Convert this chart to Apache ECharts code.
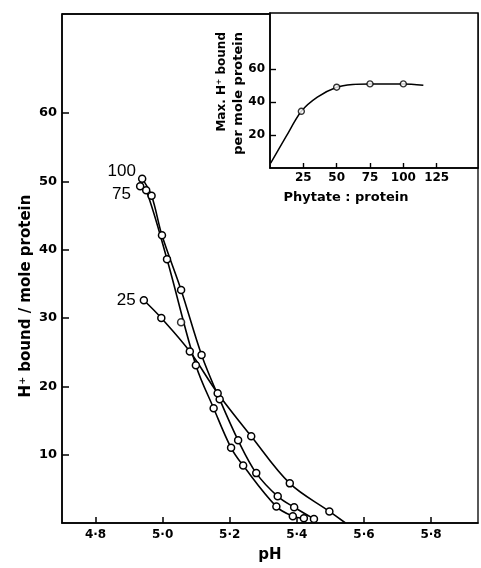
<!DOCTYPE html>
<html>
<head>
<meta charset="utf-8">
<title>H+ bound vs pH</title>
<script src="https://cdn.jsdelivr.net/npm/echarts@6/dist/echarts.min.js"></script>
<style>
  html, body { margin: 0; padding: 0; background: #fff; }
  #main { width: 481px; height: 568px; }
</style>
</head>
<body>
<div id="main"></div>
<script>
// main panel: [pH, H+ bound per mole protein]
var pts100 = [[4.939, 50.4], [4.967, 47.9], [4.998, 42.1], [5.055, 34.1], [5.116, 24.6],
  [5.170, 18.1], [5.225, 12.1], [5.279, 7.3], [5.343, 3.9], [5.392, 2.3], [5.451, 0.6]];
var pts75 = [[4.933, 49.3], [4.951, 48.7], [5.013, 38.6], [5.099, 23.1], [5.152, 16.8],
  [5.204, 11.0], [5.240, 8.4], [5.339, 2.4], [5.388, 1.0], [5.421, 0.7]];
var pts25 = [[4.944, 32.6], [4.996, 30.0], [5.081, 25.1], [5.164, 19.0], [5.264, 12.7],
  [5.379, 5.8], [5.497, 1.7]];
var end25 = [5.545, 0];
var stray = [[5.055, 29.4]];

var xTicks = [4.8, 5.0, 5.2, 5.4, 5.6, 5.8];
var yTicks = [10, 20, 30, 40, 50, 60];
var xMin = 4.7, xMax = 5.94, yMax = 74.5;

// inset: [phytate : protein, max H+ bound]
var insetCurve = [[0.5, 3.0], [12, 19.0], [23.5, 34.4], [35.5, 43.0], [50, 49.0], [62, 50.7],
  [75, 51.0], [100, 51.0], [115, 50.2]];
var insetPts = [[23.5, 34.4], [50, 49.0], [75, 51.0], [100, 51.0]];
var insetXTicks = [25, 50, 75, 100, 125];
var insetYTicks = [20, 40, 60];

var chart = echarts.init(document.getElementById('main'));
var tickFont = { color: '#000', fontFamily: 'DejaVu Sans', fontWeight: 'bold', fontSize: 12 };

function withLabel(pts, text, dist, off) {
  return pts.map(function (p, i) {
    if (i > 0) return p;
    return { value: p, label: { show: true, position: 'left', distance: dist, offset: off,
      formatter: text, color: '#000', fontSize: 17, fontFamily: 'Liberation Sans' } };
  });
}

function curve(name, data, smooth) {
  return {
    name: name, type: 'line', xAxisIndex: 0, yAxisIndex: 0,
    data: data, smooth: smooth,
    symbol: 'circle', symbolSize: 7,
    itemStyle: { color: '#fff', borderColor: '#000', borderWidth: 1.5 },
    lineStyle: { color: '#000', width: 1.6 },
    z: 3
  };
}

var d25 = withLabel(pts25, '25', 4, [0, 0]);
d25.push({ value: end25, symbol: 'none' });

var option = {
  animation: false,
  grid: [
    { left: 62, top: 14, right: 3, bottom: 40, show: true, borderColor: '#000', borderWidth: 1.3 },
    { left: 270, top: 13, right: 3, bottom: 400, show: true, backgroundColor: '#fff',
      borderColor: '#000', borderWidth: 1.5, z: 5 }
  ],
  xAxis: [
    { gridIndex: 0, type: 'value', min: xMin, max: xMax,
      axisLine: { onZero: false, lineStyle: { color: '#000', width: 1.6 } },
      axisTick: { inside: true, length: 6, customValues: xTicks, lineStyle: { color: '#000', width: 1.5 } },
      axisLabel: Object.assign({ customValues: xTicks, margin: 6,
        formatter: function (v) { return v.toFixed(1).replace('.', '·'); } }, tickFont),
      splitLine: { show: false },
      name: 'pH', nameLocation: 'middle', nameGap: 25,
      nameTextStyle: { color: '#000', fontFamily: 'DejaVu Sans', fontWeight: 'bold', fontSize: 15 } },
    { gridIndex: 1, type: 'value', min: 0, max: 156,
      axisLine: { onZero: false, lineStyle: { color: '#000', width: 1.5 } },
      axisTick: { inside: true, length: 5, customValues: insetXTicks, lineStyle: { color: '#000', width: 1.4 } },
      axisLabel: Object.assign({ customValues: insetXTicks, margin: 4 }, tickFont),
      splitLine: { show: false },
      name: 'Phytate : protein', nameLocation: 'middle', nameGap: 23,
      nameTextStyle: { color: '#000', fontFamily: 'DejaVu Sans', fontWeight: 'bold', fontSize: 13,
        padding: [0, 56, 0, 0] }, z: 6 }
  ],
  yAxis: [
    { gridIndex: 0, type: 'value', min: 0, max: yMax,
      axisLine: { onZero: false, lineStyle: { color: '#000', width: 1.6 } },
      axisTick: { inside: true, length: 7, customValues: yTicks, lineStyle: { color: '#000', width: 1.5 } },
      axisLabel: Object.assign({ customValues: yTicks, margin: 5 }, tickFont, { fontSize: 13 }),
      splitLine: { show: false } },
    { gridIndex: 1, type: 'value', min: 0, max: 94,
      axisLine: { onZero: false, lineStyle: { color: '#000', width: 1.5 } },
      axisTick: { inside: true, length: 6, customValues: insetYTicks, lineStyle: { color: '#000', width: 1.4 } },
      axisLabel: Object.assign({ customValues: insetYTicks, margin: 5 }, tickFont),
      splitLine: { show: false }, z: 6 }
  ],
  graphic: [
    { type: 'text', x: 26, y: 296, rotation: Math.PI / 2,
      style: { text: 'H⁺ bound / mole protein', fill: '#000', align: 'center', verticalAlign: 'middle',
        font: 'bold 15px "DejaVu Sans"' } },
    { type: 'text', x: 222, y: 32, rotation: Math.PI / 2, z: 10,
      style: { text: 'Max. H⁺ bound', fill: '#000', align: 'right', verticalAlign: 'middle',
        font: 'bold 12px "DejaVu Sans"' } },
    { type: 'text', x: 239, y: 32, rotation: Math.PI / 2, z: 10,
      style: { text: 'per mole protein', fill: '#000', align: 'right', verticalAlign: 'middle',
        font: 'bold 13px "DejaVu Sans"' } }
  ],
  series: [
    curve('100', withLabel(pts100, '100', 2, [0, -7]), 0.35),
    curve('75', withLabel(pts75, '75', 5, [0, 8]), 0.35),
    curve('25', d25, 0.35),
    { type: 'scatter', xAxisIndex: 0, yAxisIndex: 0, data: stray, symbol: 'circle', symbolSize: 7,
      itemStyle: { color: '#fff', borderColor: '#000', borderWidth: 1.5 }, z: 3 },
    { type: 'line', xAxisIndex: 1, yAxisIndex: 1, data: insetCurve, smooth: 0.3,
      symbol: 'none', lineStyle: { color: '#000', width: 1.5 }, z: 7 },
    { type: 'scatter', xAxisIndex: 1, yAxisIndex: 1, data: insetPts, symbol: 'circle', symbolSize: 6,
      itemStyle: { color: '#fff', borderColor: '#000', borderWidth: 1.4 }, z: 8 }
  ]
};

chart.setOption(option);

// top edge of the main frame, placed through the main grid's own scales
var tl = chart.convertToPixel({ gridIndex: 0 }, [xMin, yMax]);
var tr = chart.convertToPixel({ gridIndex: 0 }, [xMax, yMax]);
option.graphic.push({ type: 'line', z: 4,
  shape: { x1: tl[0], y1: tl[1], x2: tr[0], y2: tr[1] },
  style: { stroke: '#000', lineWidth: 1.4 } });
chart.setOption({ graphic: option.graphic });
</script>
</body>
</html>
